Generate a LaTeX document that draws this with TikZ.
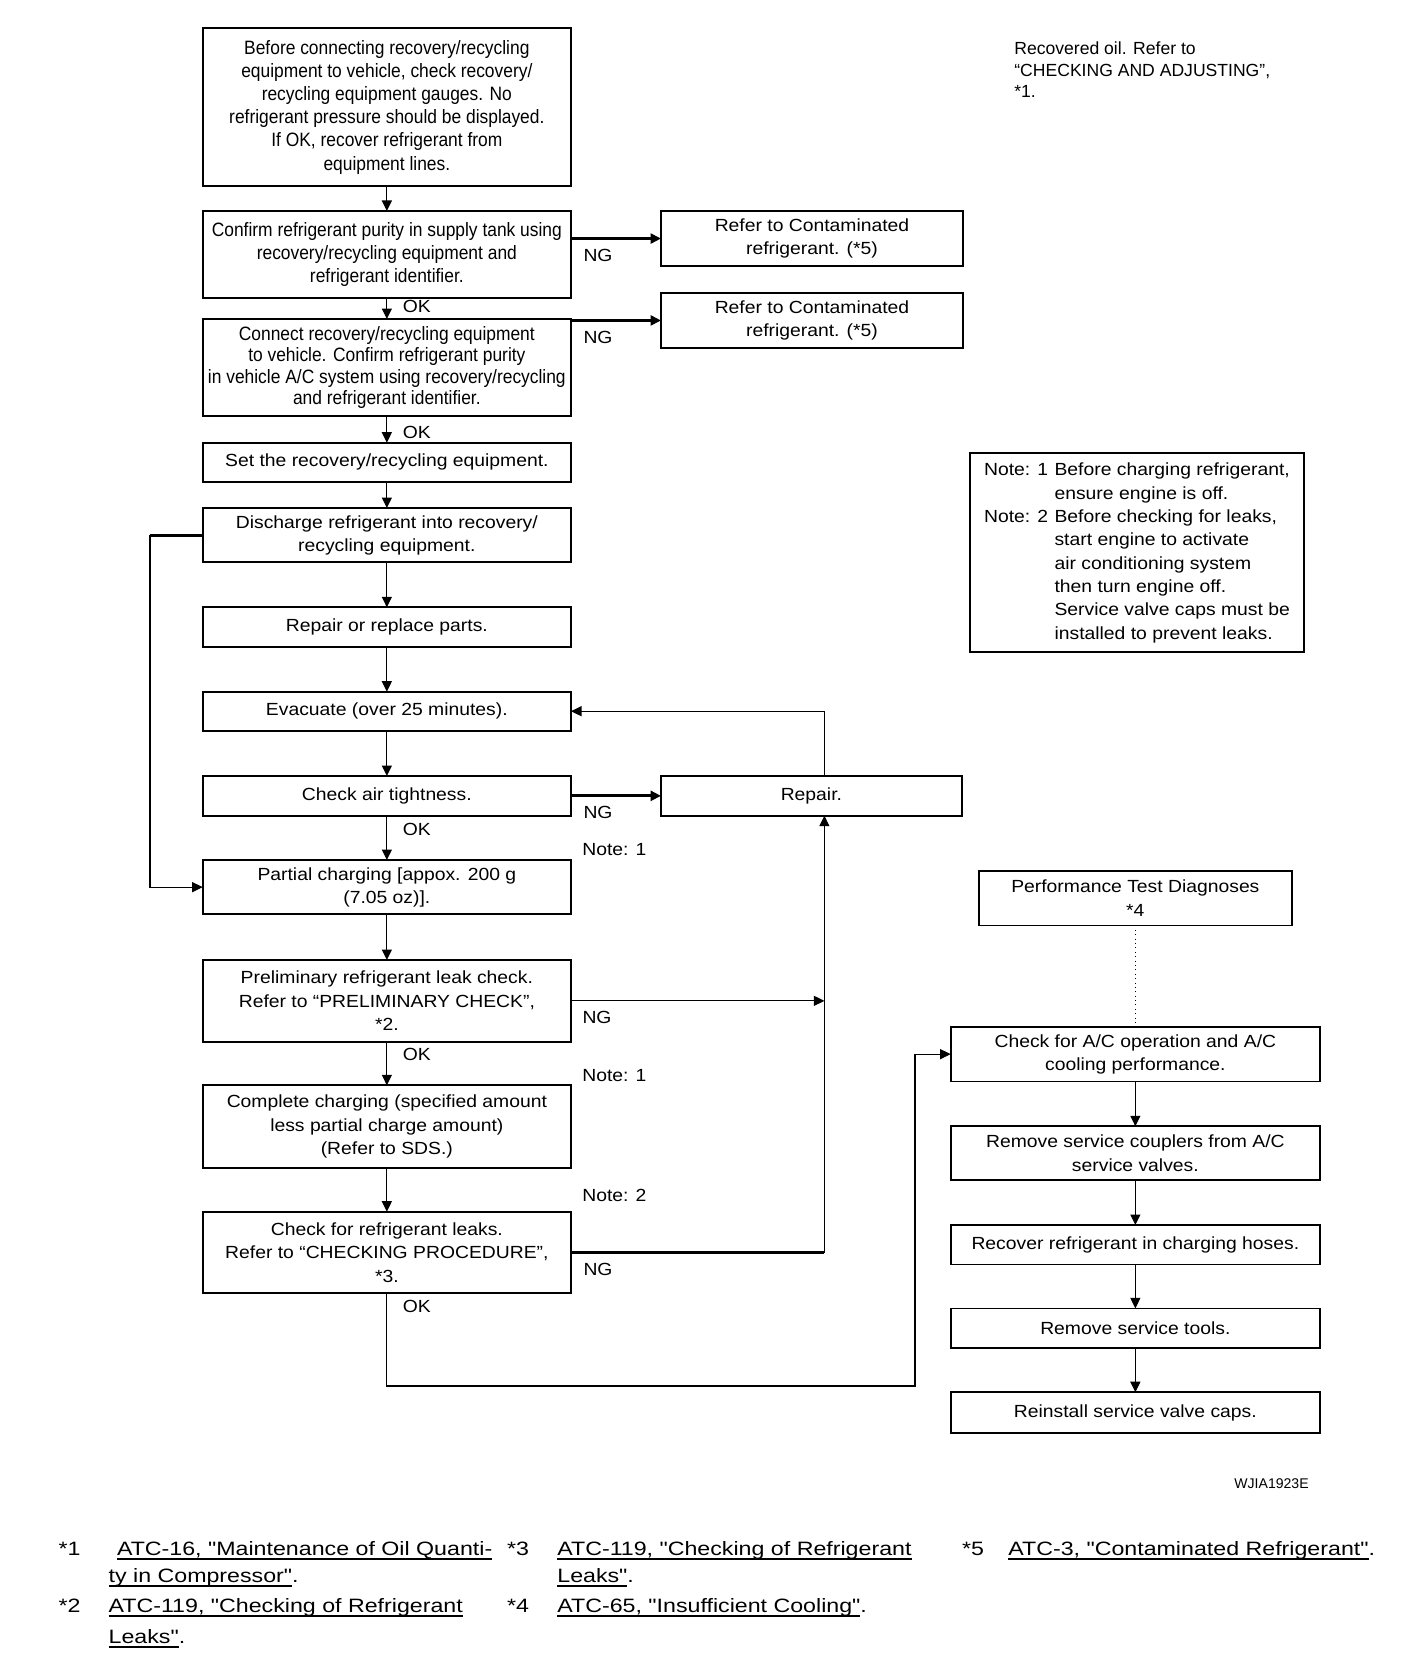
\documentclass[tikz,border=0pt]{standalone}
\usepackage{fontspec}
\setmainfont{Liberation Sans}
\newfontfamily\narrowfam[FakeStretch=0.9]{Liberation Sans}
\newfontfamily\widefam[FakeStretch=1.1]{Liberation Sans}
\newfontfamily\linkfam[FakeStretch=1.2]{Liberation Sans}
\newcommand\narrowtext{\narrowfam\fontsize{11}{13.2}\selectfont}
\newcommand\boxtext{\widefam\fontsize{10}{13.3}\selectfont}
\newcommand\linktext{\linkfam\fontsize{11}{14}\selectfont}
\newcommand\reflink[1]{\setbox0\hbox{#1}\rlap{\rule[-2.6pt]{\wd0}{1.1pt}}\box0}
\usetikzlibrary{positioning,arrows.meta}

\begin{document}
\begin{tikzpicture}[every node/.style={font=\boxtext},node distance=.9cm,
    stepbox/.style={draw,line width=1.1pt,align=center,inner sep=2pt,outer sep=0pt,minimum width=7.366cm},
    sidebox/.style={draw,line width=1.1pt,align=center,inner sep=2pt,outer sep=0pt,minimum width=6.04cm},
    endbox/.style={draw,line width=1pt,align=center,inner sep=2pt,outer sep=0pt,minimum width=7.386cm},
    tag/.style={inner sep=0pt},
    oktag/.style={tag,anchor=west,xshift=.31cm},
    ngtag/.style={tag,anchor=west,pos=0,xshift=.22cm,yshift=-.33cm},
    flow/.style={-{Triangle[length=2.1mm,width=2mm]},line width=.6pt},
    heavy/.style={line width=1.7pt}]
  \fill[white] (0,0) rectangle (28.16,-33.2);
  \useasboundingbox (0,0) rectangle (28.16,-33.2);

  % main column
  \node[stepbox,font=\narrowtext,minimum height=3.154cm] (b1) at (7.737,-2.143) {Before connecting recovery/recycling\\ equipment to vehicle, check recovery/\\ recycling equipment gauges. No\\ refrigerant pressure should be displayed.\\ If OK, recover refrigerant from\\ equipment lines.};
  \node[stepbox,font=\narrowtext,below=.5cm of b1,minimum height=1.734cm] (b2) {Confirm refrigerant purity in supply tank using\\ recovery/recycling equipment and\\ refrigerant identifier.};
  \node[stepbox,font={\narrowfam\fontsize{11}{12.3}\selectfont},below=.426cm of b2,minimum height=1.94cm] (b3) {Connect recovery/recycling equipment\\ to vehicle. Confirm refrigerant purity\\ in vehicle A/C system using recovery/recycling\\ and refrigerant identifier.};
  \node[stepbox,below=.534cm of b3,minimum height=.78cm] (b4) {Set the recovery/recycling equipment.};
  \node[stepbox,below=.526cm of b4,minimum height=1.086cm] (b5) {Discharge refrigerant into recovery/\\ recycling equipment.};
  \node[stepbox,below=of b5,minimum height=.794cm] (b6) {Repair or replace parts.};
  \node[stepbox,below=.894cm of b6,minimum height=.78cm] (b7) {Evacuate (over 25 minutes).};
  \node[stepbox,below=.906cm of b7,minimum height=.794cm] (b8) {Check air tightness.};
  \node[stepbox,below=.886cm of b8,minimum height=1.086cm] (b9) {Partial charging [appox. 200 g\\ (7.05 oz)].};
  \node[stepbox,below=.914cm of b9,minimum height=1.634cm] (b10) {Preliminary refrigerant leak check.\\ Refer to “PRELIMINARY CHECK”,\\ *2.};
  \node[stepbox,below=.872cm of b10,minimum height=1.648cm] (b11) {Complete charging (specified amount\\ less partial charge amount)\\ (Refer to SDS.)};
  \node[stepbox,below=.88cm of b11,minimum height=1.632cm] (b12) {Check for refrigerant leaks.\\ Refer to “CHECKING PROCEDURE”,\\ *3.};

  % side boxes
  \node[sidebox,right=1.8cm of b2.north east,anchor=north west,minimum height=1.102cm] (c1) {Refer to Contaminated\\ refrigerant. (*5)};
  \node[sidebox,below=.544cm of c1,minimum height=1.086cm] (c2) {Refer to Contaminated\\ refrigerant. (*5)};
  \node[sidebox,right=1.8cm of b8,minimum width=6.016cm,minimum height=.794cm] (repair) {Repair.};

  % notes
  \node[tag,right=.22cm of b9.north east,yshift=.2cm] (note1a) {Note: 1};
  \node[tag,right=.22cm of b11.north east,yshift=.2cm] (note1b) {Note: 1};
  \node[tag,right=.22cm of b12.north east,yshift=.32cm] (note2) {Note: 2};
  \node[tag,anchor=west,align=left,font=\fontsize{10}{12.3}\selectfont] (oilnote) at (20.28,-1.4) {Recovered oil. Refer to\\ “CHECKING AND ADJUSTING”,\\ *1.};
  \node[draw,line width=1pt,minimum width=6.68cm,minimum height=3.98cm,inner sep=0pt,outer sep=0pt] (notes) at (22.74,-11.056) {\begin{tabular}{@{}l@{\hspace{3.6pt}}l@{}}
    Note: 1 & Before charging refrigerant,\\
            & ensure engine is off.\\
    Note: 2 & Before checking for leaks,\\
            & start engine to activate\\
            & air conditioning system\\
            & then turn engine off.\\
            & Service valve caps must be\\
            & installed to prevent leaks.
  \end{tabular}};

  % final checks
  \node[draw,line width=1pt,align=center,inner sep=2pt,outer sep=0pt,minimum width=6.254cm,minimum height=1.088cm] (perf) at (22.707,-17.964) {Performance Test Diagnoses\\ *4};
  \node[endbox,below=2.028cm of perf,minimum height=1.094cm] (checkac) {Check for A/C operation and A/C\\ cooling performance.};
  \node[endbox,below=.896cm of checkac,minimum height=1.072cm] (couplers) {Remove service couplers from A/C\\ service valves.};
  \node[endbox,below=.902cm of couplers,minimum height=.788cm] (recover) {Recover refrigerant in charging hoses.};
  \node[endbox,below=.88cm of recover,minimum height=.796cm] (tools) {Remove service tools.};
  \node[endbox,below=.88cm of tools,minimum height=.82cm] (caps) {Reinstall service valve caps.};
  \node[tag,anchor=east,font=\fontsize{8}{9}\selectfont] (figid) at (26.18,-29.68) {WJIA1923E};

  % connectors
  \draw[flow] (b1) -- (b2);
  \draw[flow] (b2) -- node[oktag,pos=.4] {OK} (b3);
  \draw[flow] (b3) -- node[oktag,pos=.6] {OK} (b4);
  \draw[flow] (b4) -- (b5);
  \draw[flow] (b5) -- (b6);
  \draw[flow] (b6) -- (b7);
  \draw[flow] (b7) -- (b8);
  \draw[flow] (b8) -- node[oktag,pos=.3] {OK} (b9);
  \draw[flow] (b9) -- (b10);
  \draw[flow] (b10) -- node[oktag,pos=.3] {OK} (b11);
  \draw[flow] (b11) -- (b12);

  \draw[flow,heavy] (c1.west -| b2.east) -- node[ngtag] {NG} (c1.west);
  \draw[flow,heavy] (c2.west -| b3.east) -- node[ngtag] {NG} (c2.west);
  \draw[flow,heavy] (b8) -- node[ngtag] {NG} (repair);

  \coordinate (riser) at ([xshift=.26cm]repair.north);
  \draw[flow] (riser) |- (b7.east);
  \draw[flow] (b10.east) -- node[ngtag] {NG} (b10.east -| riser);
  \draw[heavy] (b12.east) -- node[ngtag] {NG} (b12.east -| riser);
  \draw[flow] (b12.east -| riser) -- (repair.south -| riser);

  \coordinate (backloop) at (3,0);
  \draw[heavy] (b5.west) -- (b5.west -| backloop);
  \draw[flow] (b5.west -| backloop) |- (b9.west);

  \coordinate (okbend) at (18.3,-27.72);
  \draw[flow] (b12.south) |- node[oktag,pos=.07] {OK} (okbend) |- (checkac.west);

  \draw[dotted,line width=.5pt] (perf) -- (checkac);
  \draw[flow] (checkac) -- (couplers);
  \draw[flow] (couplers) -- (recover);
  \draw[flow] (recover) -- (tools);
  \draw[flow] (tools) -- (caps);

  % references
  \begin{scope}[every node/.style={font=\linktext,inner sep=0pt,anchor=base west}]
    \node (k1) at (1.166,-31.1) {*1};
    \node (r1) at (2.334,-31.1) {\reflink{ATC-16, "Maintenance of Oil Quanti-}};
    \node (r1b) at (2.166,-31.64) {\reflink{ty in Compressor"}.};
    \node (k2) at (1.166,-32.24) {*2};
    \node (r2) at (2.166,-32.24) {\reflink{ATC-119, "Checking of Refrigerant}};
    \node (r2b) at (2.166,-32.86) {\reflink{Leaks"}.};
    \node (k3) at (10.134,-31.1) {*3};
    \node (r3) at (11.14,-31.1) {\reflink{ATC-119, "Checking of Refrigerant}};
    \node (r3b) at (11.14,-31.64) {\reflink{Leaks"}.};
    \node (k4) at (10.134,-32.24) {*4};
    \node (r4) at (11.14,-32.24) {\reflink{ATC-65, "Insufficient Cooling"}.};
    \node (k5) at (19.236,-31.1) {*5};
    \node (r5) at (20.16,-31.1) {\reflink{ATC-3, "Contaminated Refrigerant"}.};
  \end{scope}
\end{tikzpicture}
\end{document}
